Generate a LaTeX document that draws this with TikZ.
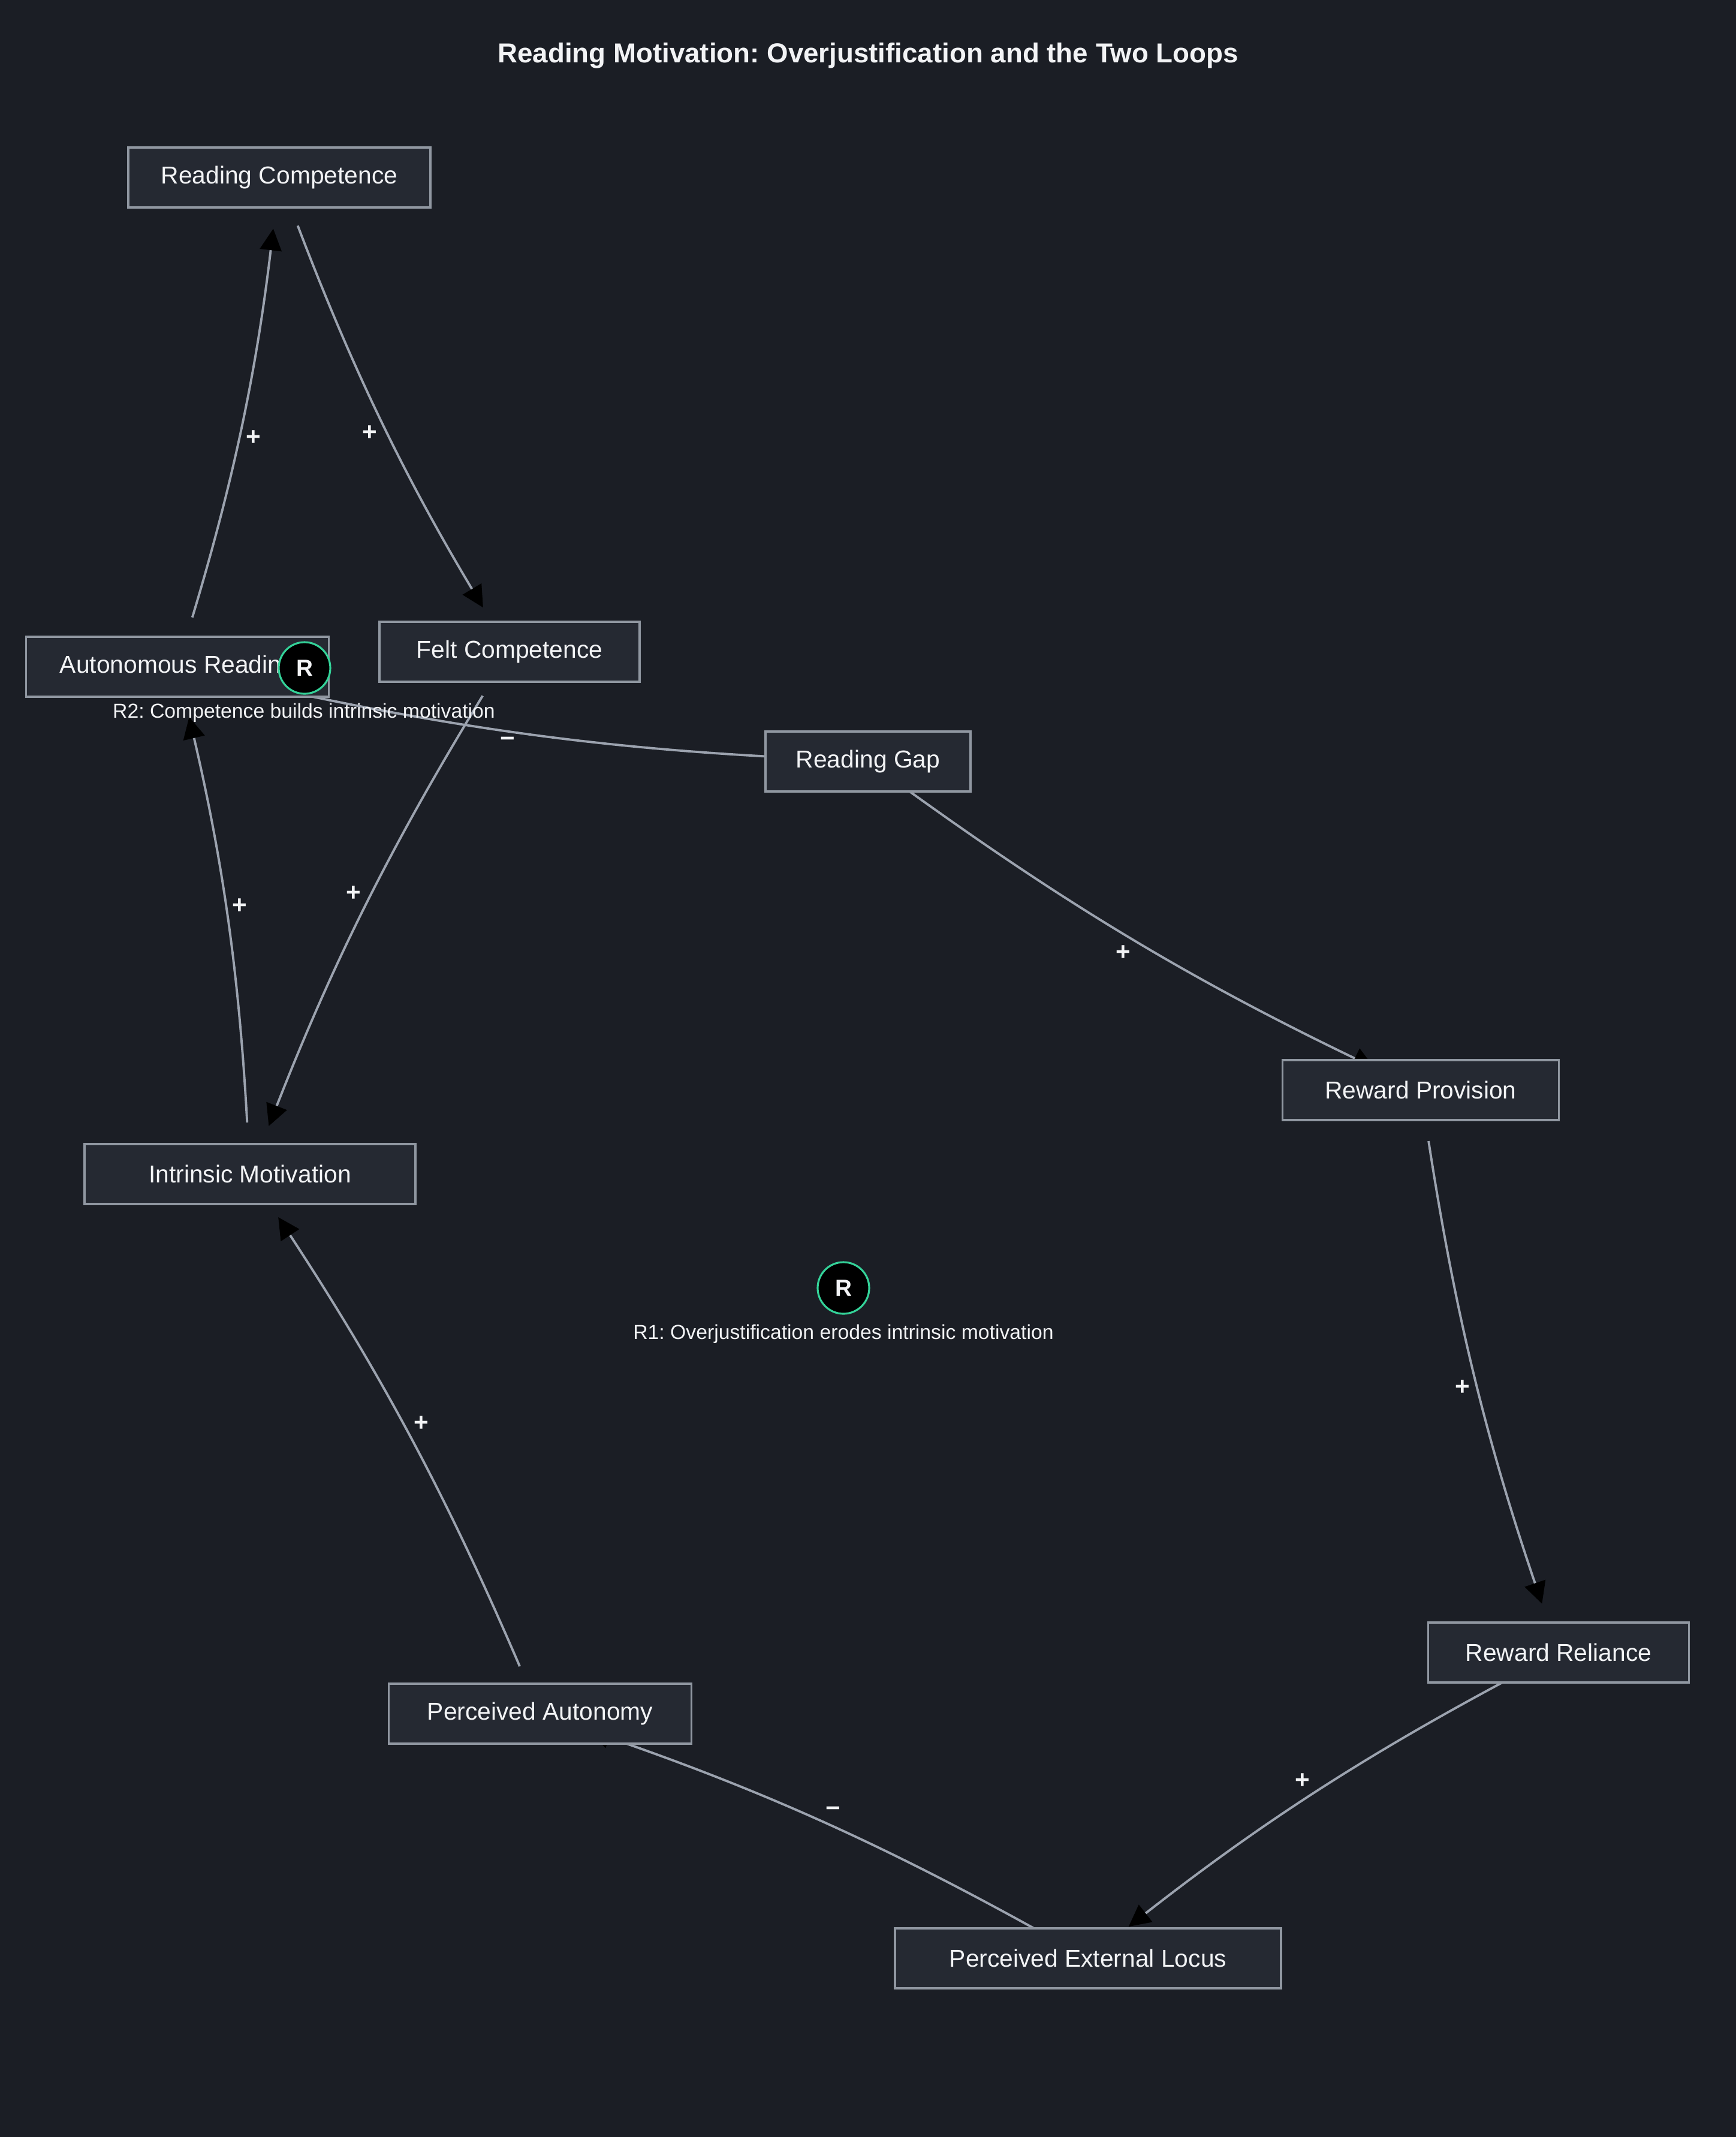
\documentclass[tikz,border=0pt]{standalone}
\usepackage{fontspec}
\setmainfont{Liberation Sans}
\usetikzlibrary{arrows.meta}
\definecolor{bgdark}{HTML}{1B1E25}
\definecolor{boxfill}{HTML}{252932}
\definecolor{boxline}{HTML}{9097A1}
\definecolor{linkgray}{HTML}{9CA3AF}
\definecolor{textwhite}{HTML}{F2F3F5}
\definecolor{loopteal}{HTML}{34D399}
\pgfdeclarelayer{back}
\pgfdeclarelayer{links}
\pgfsetlayers{back,links,main}
\frenchspacing

\begin{document}
\begin{tikzpicture}[
  var/.style={draw=boxline, line width=1pt, fill=boxfill, text=textwhite,
    font=\fontsize{11.6}{14}\selectfont, minimum height=1cm, inner sep=0pt},
  link/.style={draw=linkgray, line width=1.1pt, bend right=5,
    shorten <=0.86cm, shorten >=0.86cm,
    -{Triangle[length=0.36cm, width=0.36cm, color=black]}},
  pol/.style={midway, auto, swap, text=textwhite, inner sep=0.07cm,
    font=\fontsize{12}{14}\selectfont\bfseries},
  loopmark/.style={circle, fill=black, draw=loopteal, line width=0.9pt,
    minimum size=0.86cm, inner sep=0pt, text=textwhite,
    font=\fontsize{11}{13}\selectfont\bfseries},
  looptext/.style={text=textwhite, font=\fontsize{9.6}{12}\selectfont}
]
  % Page
  \begin{pgfonlayer}{back}
    \fill[bgdark] (0,0) rectangle (28.96,-35.64);
  \end{pgfonlayer}

  % Title
  \node[text=textwhite, font=\fontsize{13}{16}\selectfont\bfseries] (title) at (14.48,-0.93)
    {Reading Motivation: Overjustification and the Two Loops};

  % Variables
  \node[var, minimum width=5.04cm] (compet) at (4.66,-2.96) {Reading Competence};
  \node[var, minimum width=5.05cm] (autoread) at (2.96,-11.12) {Autonomous Reading};
  \node[var, minimum width=4.34cm] (felt) at (8.50,-10.87) {Felt Competence};
  \node[var, minimum width=3.42cm] (gap) at (14.48,-12.70) {Reading Gap};
  \node[var, minimum width=4.61cm] (reward) at (23.70,-18.18) {Reward Provision};
  \node[var, minimum width=5.52cm] (intrinsic) at (4.17,-19.58) {Intrinsic Motivation};
  \node[var, minimum width=4.35cm] (reliance) at (26.00,-27.56) {Reward Reliance};
  \node[var, minimum width=6.44cm] (locus) at (18.15,-32.66) {Perceived External Locus};
  \node[var, minimum width=5.05cm] (autonomy) at (9.01,-28.58) {Perceived Autonomy};

  % Links (centre to centre, under the boxes)
  \begin{pgfonlayer}{links}
    \draw[link] (autoread.center) to node[pol] {+} (compet.center);
    \draw[link] (compet.center) to node[pol] {+} (felt.center);
    \draw[link] (felt.center) to node[pol] {+} (intrinsic.center);
    \draw[link] (intrinsic.center) to node[pol] {+} (autoread.center);
    \draw[link] (autoread.center) to node[pol] {−} (gap.center);
    \draw[link] (gap.center) to node[pol] {+} (reward.center);
    \draw[link] (reward.center) to node[pol] {+} (reliance.center);
    \draw[link] (reliance.center) to node[pol] {+} (locus.center);
    \draw[link] (locus.center) to node[pol] {−} (autonomy.center);
    \draw[link] (autonomy.center) to node[pol] {+} (intrinsic.center);
  \end{pgfonlayer}

  % Loop markers
  \node[loopmark] (rtwo) at (5.08,-11.14) {R};
  \node[looptext] (rtwolabel) at (5.07,-11.89) {R2: Competence builds intrinsic motivation};
  \node[loopmark] (rone) at (14.07,-21.48) {R};
  \node[looptext] (ronelabel) at (14.07,-22.25) {R1: Overjustification erodes intrinsic motivation};
\end{tikzpicture}
\end{document}
